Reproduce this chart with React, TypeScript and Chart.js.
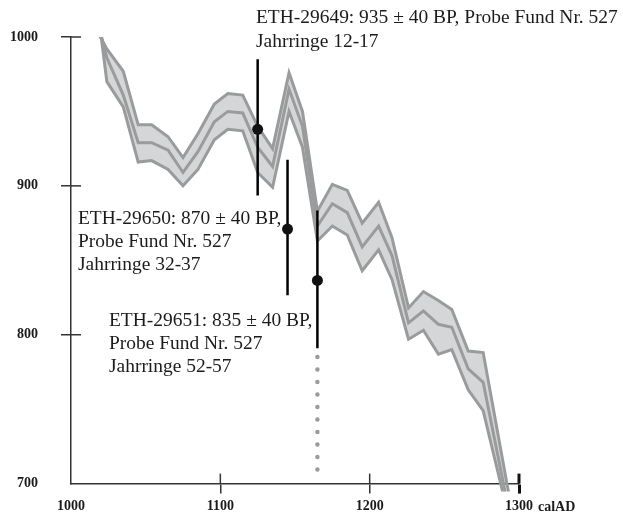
import React, { useEffect, useRef } from "react";
import { Chart, registerables } from "chart.js";
Chart.register(...registerables);

// Calibration curve (calAD years vs BP)
const years = [1018, 1024, 1035, 1045, 1054, 1065, 1075, 1085, 1096, 1105, 1115, 1125, 1135, 1146, 1155, 1165, 1175, 1185, 1195, 1206, 1215, 1226, 1236, 1246, 1255, 1266, 1276, 1293];
const upper = [1003, 992, 977, 941, 941, 933, 919, 935, 955, 962, 961, 940, 925, 976, 950, 883, 901, 897, 875, 889, 865, 818, 829, 823, 817, 789, 788, 694];
const mid = [1010, 986, 961, 929, 929, 924, 909, 923, 943, 950, 949, 926, 913, 965, 940, 873, 888, 882, 859, 873, 853, 808, 816, 807, 805, 777, 768, 683];
const lower = [1018, 970, 953, 916, 917, 911, 900, 911, 931, 938, 937, 909, 899, 950, 926, 863, 873, 867, 843, 857, 837, 797, 803, 787, 790, 763, 749, 678];

// Samples: year position, measured BP, bar extent
const sampleYears = [1125, 1145, 1165];
const sampleBP = [938, 871, 836.5];
const barTop = [985, 917.5, 883.5];
const barBottom = [893.5, 826.5, 791];
const dottedFrom = 785;
const dottedTo = 703;

const xTicks = [1000, 1100, 1200, 1300];
const yTicks = [700, 800, 900, 1000];
const xUnit = "calAD";

const labels1 = ["ETH-29649: 935 ± 40 BP, Probe Fund Nr. 527", "Jahrringe 12-17"];
const labels2 = ["ETH-29650: 870 ± 40 BP,", "Probe Fund Nr. 527", "Jahrringe 32-37"];
const labels3 = ["ETH-29651: 835 ± 40 BP,", "Probe Fund Nr. 527", "Jahrringe 52-57"];

const LINE = "#9a9b9d";
const FILL = "#d5d6d8";
const AXIS = "#333333";
const TEXT = "#1c1a1b";
const SERIF = "'Liberation Serif', 'Times New Roman', serif";

const pts = (xs: number[], ys: number[]) => xs.map((x, i) => ({ x, y: ys[i] }));

const decor = {
  id: "decor",
  afterDraw(chart: any) {
    const { ctx, chartArea, scales } = chart;
    const xs = scales.x;
    const ys = scales.y;
    ctx.save();
    // inward halves of ticks
    ctx.lineCap = "butt";
    xTicks.forEach((v) => {
      if (v === 1000) return;
      const px = xs.getPixelForValue(v);
      ctx.strokeStyle = v === 1300 ? "#111" : AXIS;
      ctx.lineWidth = v === 1300 ? 3 : 1.5;
      ctx.beginPath();
      ctx.moveTo(px, chartArea.bottom);
      ctx.lineTo(px, chartArea.bottom - 10);
      ctx.stroke();
    });
    yTicks.forEach((v) => {
      if (v === 700) return;
      const py = ys.getPixelForValue(v);
      ctx.strokeStyle = AXIS;
      ctx.lineWidth = 1.5;
      ctx.beginPath();
      ctx.moveTo(chartArea.left, py);
      ctx.lineTo(chartArea.left + 10, py);
      ctx.stroke();
    });
    // unit after last x tick label
    ctx.fillStyle = TEXT;
    ctx.font = `bold 14px ${SERIF}`;
    ctx.textAlign = "left";
    ctx.textBaseline = "middle";
    ctx.fillText(xUnit, xs.getPixelForValue(1300) + 19, 507);

    // annotations
    ctx.textBaseline = "alphabetic";
    ctx.font = `18px ${SERIF}`;
    const block = (lines: string[], x: number, y0: number, step: number) => {
      lines.forEach((t, i) => {
        ctx.save();
        ctx.translate(x, y0 + i * step);
        ctx.scale(1.08, 1);
        ctx.fillText(t, 0, 0);
        ctx.restore();
      });
    };
    block(labels1, 256, 23, 24);
    block(labels2, 78, 224, 23);
    block(labels3, 109, 326, 23);
    ctx.restore();
  },
};

export default function App() {
  const ref = useRef<HTMLCanvasElement>(null);
  useEffect(() => {
    if (!ref.current) return;
    const lineBase = { type: "line" as const, order: 5, pointRadius: 0, tension: 0, borderColor: LINE, borderWidth: 3, borderJoinStyle: "miter" as const, clip: { left: 0, top: 0, right: 5, bottom: 8 } };
    const datasets: any[] = [
      { ...lineBase, data: pts(years, upper), fill: 2, backgroundColor: FILL },
      { ...lineBase, data: pts(years, mid), fill: false },
      { ...lineBase, data: pts(years, lower), fill: false },
    ];
    sampleYears.forEach((yr, i) => {
      datasets.push({
        type: "line",
        order: 2,
        data: [{ x: yr, y: barTop[i] }, { x: yr, y: barBottom[i] }],
        borderColor: "#000",
        borderWidth: 2.5,
        pointRadius: 0,
        fill: false,
      });
    });
    datasets.push({
      type: "line",
      order: 2,
      data: [{ x: sampleYears[2], y: dottedFrom }, { x: sampleYears[2], y: dottedTo }],
      borderColor: "#9a9b9d",
      borderWidth: 4.5,
      borderCapStyle: "round",
      borderDash: [0, 12.5],
      pointRadius: 0,
      fill: false,
    });
    datasets.push({
      type: "scatter",
      order: 0,
      data: pts(sampleYears, sampleBP),
      pointRadius: 5.5,
      backgroundColor: "#111",
      borderColor: "#111",
      borderWidth: 0,
    });

    const tickFont = { family: SERIF, weight: "bold" as const, size: 14 };
    const chart = new Chart(ref.current, {
      type: "line",
      data: { datasets },
      options: {
        responsive: false,
        animation: false,
        devicePixelRatio: 1,
        events: [],
        layout: { padding: { left: 0, right: 104, top: 37, bottom: 0 } },
        plugins: {
          legend: { display: false },
          tooltip: { enabled: false },
          filler: { drawTime: "beforeDatasetsDraw" },
        },
        scales: {
          x: {
            type: "linear",
            min: 1000,
            max: 1300,
            afterFit: (s: any) => { s.height = 28; },
            afterBuildTicks: (s: any) => { s.ticks = xTicks.map((v) => ({ value: v })); },
            ticks: { font: tickFont, color: TEXT, padding: 4, maxRotation: 0, autoSkip: false, callback: (v: any) => String(v) },
            grid: {
              drawOnChartArea: false,
              drawTicks: true,
              tickLength: 10,
              color: (c: any) => (c.tick && c.tick.value === 1000 ? "rgba(0,0,0,0)" : c.tick && c.tick.value === 1300 ? "#111" : AXIS),
              lineWidth: (c: any) => (c.tick && c.tick.value === 1300 ? 3 : 1.5),
            },
            border: { display: true, color: AXIS, width: 1.5 },
          },
          y: {
            type: "linear",
            min: 700,
            max: 1000,
            afterFit: (s: any) => { s.width = 71; },
            afterBuildTicks: (s: any) => { s.ticks = yTicks.map((v) => ({ value: v })); },
            ticks: { font: tickFont, color: TEXT, padding: 23, callback: (v: any) => String(v) },
            grid: {
              drawOnChartArea: false,
              drawTicks: true,
              tickLength: 10,
              color: (c: any) => (c.tick && c.tick.value === 700 ? "rgba(0,0,0,0)" : AXIS),
              lineWidth: 1.5,
            },
            border: { display: true, color: AXIS, width: 1.5 },
          },
        },
      },
      plugins: [decor],
    });
    return () => chart.destroy();
  }, []);
  return (
    <div style={{ position: "fixed", left: 0, top: 0, width: 623, height: 515, background: "#fff" }}>
      <canvas ref={ref} width={623} height={515} style={{ display: "block" }} />
    </div>
  );
}
